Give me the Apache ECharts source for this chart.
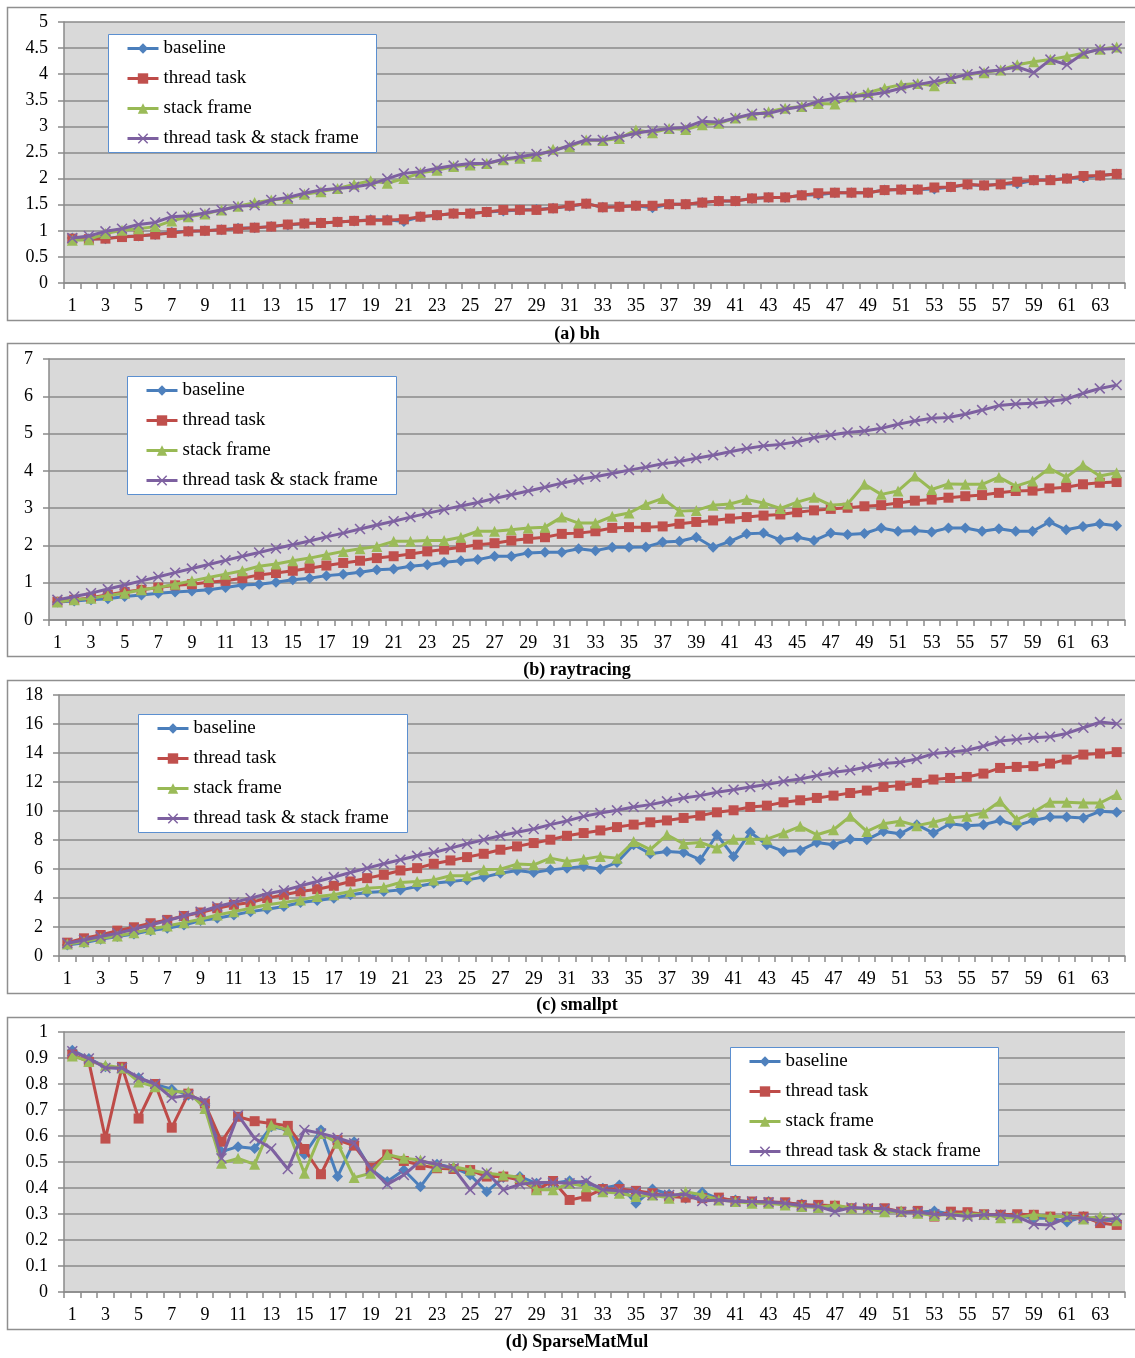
<!DOCTYPE html>
<html>
<head>
<meta charset="utf-8">
<script src="https://cdn.jsdelivr.net/npm/echarts@6/dist/echarts.min.js"></script>
<style>
  html, body { margin: 0; padding: 0; background: #ffffff; }
  #chart { width: 1135px; height: 1358px; }
</style>
</head>
<body>
<div id="chart"></div>
<script>
// Thread counts on the x axis
const categories = ['1','2','3','4','5','6','7','8','9','10','11','12','13','14','15','16',
  '17','18','19','20','21','22','23','24','25','26','27','28','29','30','31','32',
  '33','34','35','36','37','38','39','40','41','42','43','44','45','46','47','48',
  '49','50','51','52','53','54','55','56','57','58','59','60','61','62','63','64'];

const seriesNames = ['baseline', 'thread task', 'stack frame', 'thread task & stack frame'];

// (a) bh
const bhBase = [0.86,0.85,0.85,0.89,0.90,0.93,0.97,0.99,1.00,1.02, 1.05,1.06,1.08,1.11,1.14,1.15,1.17,1.19,1.21,1.21,
  1.18,1.27,1.30,1.33,1.33,1.36,1.38,1.40,1.41,1.43, 1.47,1.52,1.45,1.46,1.48,1.44,1.51,1.51,1.54,1.57,
  1.57,1.62,1.64,1.64,1.68,1.69,1.73,1.73,1.73,1.78, 1.79,1.79,1.80,1.84,1.88,1.87,1.89,1.90,1.97,1.98,
  2.00,2.02,2.06,2.09];
const bhThread = [0.85,0.84,0.85,0.88,0.90,0.93,0.96,0.99,1.00,1.02, 1.04,1.06,1.08,1.12,1.14,1.15,1.17,1.19,1.20,1.20,
  1.22,1.27,1.30,1.33,1.33,1.36,1.40,1.40,1.40,1.43, 1.48,1.52,1.45,1.46,1.48,1.48,1.51,1.51,1.54,1.57,
  1.57,1.62,1.64,1.64,1.68,1.72,1.73,1.73,1.73,1.78, 1.79,1.79,1.83,1.84,1.89,1.87,1.89,1.94,1.97,1.97,
  2.00,2.05,2.06,2.09];
const bhStack = [0.82,0.83,0.95,1.01,1.04,1.08,1.19,1.27,1.32,1.40, 1.47,1.54,1.59,1.62,1.70,1.75,1.81,1.89,1.96,1.91,
  2.00,2.11,2.16,2.23,2.26,2.29,2.36,2.39,2.43,2.56, 2.61,2.74,2.73,2.77,2.93,2.88,2.96,2.94,3.03,3.06,
  3.16,3.22,3.28,3.35,3.38,3.44,3.43,3.57,3.65,3.73, 3.80,3.82,3.78,3.92,3.99,4.03,4.08,4.18,4.24,4.28,
  4.34,4.40,4.48,4.52];
const bhBoth = [0.86,0.90,0.99,1.04,1.12,1.16,1.27,1.29,1.34,1.40, 1.47,1.49,1.59,1.64,1.72,1.78,1.81,1.84,1.89,2.00,
  2.10,2.13,2.20,2.25,2.29,2.29,2.37,2.42,2.47,2.52, 2.64,2.74,2.74,2.80,2.87,2.92,2.96,2.98,3.10,3.08,
  3.16,3.24,3.25,3.33,3.38,3.48,3.54,3.57,3.60,3.65, 3.73,3.80,3.86,3.92,4.00,4.05,4.08,4.14,4.03,4.28,
  4.18,4.40,4.48,4.49];

// (b) raytracing
const rtBase = [0.48,0.51,0.54,0.57,0.63,0.67,0.72,0.75,0.78,0.81, 0.87,0.94,0.96,1.01,1.08,1.12,1.19,1.23,1.28,1.35,
  1.37,1.44,1.48,1.55,1.59,1.62,1.71,1.71,1.80,1.82, 1.82,1.91,1.86,1.95,1.95,1.96,2.09,2.11,2.22,1.95,
  2.11,2.31,2.33,2.15,2.22,2.13,2.33,2.29,2.32,2.47, 2.38,2.40,2.36,2.47,2.47,2.38,2.45,2.38,2.38,2.63,
  2.42,2.51,2.58,2.53];
const rtThread = [0.49,0.54,0.60,0.68,0.75,0.81,0.87,0.93,0.96,1.01, 1.05,1.12,1.21,1.26,1.32,1.39,1.46,1.53,1.59,1.66,
  1.71,1.77,1.84,1.89,1.95,2.02,2.06,2.13,2.18,2.22, 2.31,2.33,2.38,2.47,2.49,2.49,2.51,2.58,2.63,2.67,
  2.72,2.76,2.80,2.83,2.89,2.94,2.98,3.01,3.05,3.08, 3.14,3.20,3.23,3.28,3.32,3.35,3.41,3.46,3.47,3.53,
  3.56,3.64,3.68,3.70];
const rtStack = [0.48,0.54,0.58,0.66,0.72,0.81,0.87,0.96,1.05,1.14, 1.23,1.32,1.44,1.50,1.59,1.66,1.75,1.84,1.91,1.97,
  2.11,2.11,2.13,2.13,2.22,2.38,2.38,2.42,2.47,2.49, 2.76,2.60,2.60,2.78,2.87,3.10,3.26,2.92,2.94,3.08,
  3.11,3.23,3.14,2.99,3.16,3.29,3.08,3.11,3.64,3.37, 3.46,3.86,3.50,3.65,3.64,3.64,3.83,3.59,3.73,4.07,
  3.83,4.16,3.86,3.95];
const rtBoth = [0.54,0.63,0.72,0.83,0.94,1.05,1.16,1.27,1.38,1.49, 1.60,1.71,1.81,1.92,2.02,2.12,2.23,2.33,2.44,2.55,
  2.65,2.76,2.86,2.96,3.06,3.15,3.26,3.36,3.46,3.56, 3.67,3.77,3.84,3.93,4.02,4.10,4.19,4.25,4.34,4.42,
  4.51,4.60,4.67,4.71,4.78,4.89,4.96,5.03,5.07,5.14, 5.25,5.34,5.41,5.43,5.52,5.63,5.75,5.79,5.81,5.86,
  5.92,6.08,6.21,6.30];

// (c) smallpt
const spBase = [0.76,0.92,1.15,1.34,1.52,1.75,1.91,2.14,2.44,2.60, 2.83,3.06,3.23,3.41,3.69,3.82,3.99,4.22,4.38,4.45,
  4.56,4.79,5.02,5.14,5.25,5.44,5.71,5.90,5.76,5.94, 6.06,6.18,5.99,6.45,7.67,7.05,7.21,7.14,6.64,8.36,
  6.87,8.53,7.67,7.21,7.28,7.83,7.67,8.06,8.02,8.59, 8.43,9.06,8.48,9.12,8.99,9.06,9.35,8.99,9.35,9.59,
  9.59,9.52,9.98,9.91];
const spThread = [0.92,1.22,1.45,1.75,1.98,2.26,2.49,2.76,3.00,3.29, 3.53,3.69,3.99,4.22,4.45,4.61,4.84,5.14,5.37,5.60,
  5.90,6.06,6.36,6.59,6.82,7.05,7.33,7.56,7.79,8.02, 8.29,8.48,8.66,8.89,9.06,9.22,9.35,9.52,9.68,9.91,
  10.05,10.28,10.37,10.60,10.74,10.90,11.06,11.24,11.41,11.66, 11.75,11.94,12.17,12.28,12.35,12.58,12.97,13.04,13.09,13.27,
  13.55,13.89,13.96,14.06];
const spStack = [0.83,0.99,1.22,1.38,1.61,1.84,2.07,2.30,2.53,2.83, 3.06,3.29,3.53,3.69,3.87,4.10,4.22,4.45,4.68,4.75,
  5.07,5.14,5.25,5.53,5.53,5.94,5.99,6.34,6.29,6.75, 6.52,6.68,6.87,6.75,7.90,7.33,8.36,7.74,7.83,7.44,
  8.06,8.06,8.06,8.48,8.94,8.36,8.71,9.63,8.59,9.12, 9.29,8.99,9.22,9.52,9.63,9.86,10.67,9.40,9.91,10.60,
  10.60,10.55,10.55,11.13];
const spBoth = [0.88,1.11,1.34,1.57,1.84,2.14,2.44,2.76,3.06,3.41, 3.69,3.99,4.29,4.52,4.84,5.14,5.44,5.76,6.06,6.36,
  6.64,6.91,7.14,7.44,7.74,8.02,8.29,8.53,8.76,9.06, 9.32,9.63,9.86,10.05,10.28,10.44,10.67,10.90,11.06,11.29,
  11.47,11.66,11.82,12.05,12.21,12.44,12.67,12.81,13.04,13.27, 13.36,13.59,13.96,14.06,14.19,14.47,14.82,14.93,15.05,15.12,
  15.35,15.74,16.13,16.01];

// (d) SparseMatMul
const smBase = [0.930,0.898,0.866,0.859,0.824,0.798,0.780,0.757,0.725,0.540, 0.559,0.552,0.636,0.623,0.529,0.623,0.444,0.578,0.473,0.425,
  0.469,0.405,0.491,0.478,0.450,0.386,0.440,0.444,0.418,0.418, 0.428,0.418,0.399,0.412,0.341,0.396,0.376,0.361,0.384,0.358,
  0.354,0.345,0.348,0.341,0.338,0.329,0.322,0.322,0.320,0.312, 0.309,0.307,0.312,0.299,0.297,0.297,0.297,0.294,0.284,0.284,
  0.269,0.290,0.277,0.274];
const smThread = [0.913,0.885,0.590,0.866,0.667,0.800,0.632,0.763,0.725,0.578, 0.674,0.657,0.648,0.639,0.550,0.453,0.584,0.563,0.478,0.529,
  0.504,0.488,0.476,0.473,0.469,0.444,0.444,0.431,0.393,0.427, 0.354,0.367,0.396,0.396,0.389,0.380,0.367,0.363,0.361,0.363,
  0.350,0.348,0.345,0.345,0.335,0.335,0.332,0.322,0.320,0.322, 0.309,0.312,0.290,0.309,0.307,0.299,0.297,0.299,0.297,0.290,
  0.290,0.290,0.265,0.258];
const smStack = [0.908,0.887,0.872,0.862,0.808,0.789,0.770,0.770,0.706,0.495, 0.514,0.491,0.642,0.623,0.457,0.610,0.572,0.440,0.457,0.529,
  0.514,0.508,0.482,0.482,0.469,0.457,0.450,0.440,0.393,0.393, 0.418,0.405,0.386,0.380,0.367,0.373,0.361,0.386,0.373,0.354,
  0.348,0.341,0.341,0.335,0.329,0.325,0.335,0.322,0.320,0.309, 0.312,0.303,0.294,0.299,0.299,0.299,0.286,0.286,0.297,0.290,
  0.290,0.281,0.290,0.274];
const smBoth = [0.926,0.898,0.862,0.862,0.824,0.800,0.747,0.757,0.734,0.514, 0.680,0.591,0.552,0.473,0.623,0.610,0.593,0.572,0.473,0.414,
  0.450,0.504,0.491,0.476,0.393,0.460,0.393,0.414,0.421,0.421, 0.418,0.427,0.393,0.389,0.386,0.373,0.373,0.376,0.350,0.354,
  0.348,0.348,0.345,0.341,0.332,0.329,0.309,0.325,0.322,0.320, 0.307,0.307,0.299,0.297,0.290,0.297,0.297,0.290,0.261,0.258,
  0.286,0.284,0.274,0.284];

const captions = ['(a) bh', '(b) raytracing', '(c) smallpt', '(d) SparseMatMul'];

// Layout of the four stacked panels
const panels = [
  { values: [bhBase, bhThread, bhStack, bhBoth], max: 5, step: 0.5,
    left: 64, top: 22, bottom: 283, frameTop: 7, frameBottom: 320, captionY: 334,
    legendBox: [108, 34, 268, 118] },
  { values: [rtBase, rtThread, rtStack, rtBoth], max: 7, step: 1,
    left: 49, top: 359, bottom: 620, frameTop: 343, frameBottom: 656, captionY: 670,
    legendBox: [127, 376, 269, 118] },
  { values: [spBase, spThread, spStack, spBoth], max: 18, step: 2,
    left: 59, top: 695, bottom: 956, frameTop: 680, frameBottom: 993, captionY: 1005,
    legendBox: [138, 714, 269, 118] },
  { values: [smBase, smThread, smStack, smBoth], max: 1, step: 0.1,
    left: 64, top: 1032, bottom: 1292, frameTop: 1017, frameBottom: 1329, captionY: 1342,
    legendBox: [730, 1047, 268, 118] }
];

const PLOT_RIGHT = 1125;
const FONT = '"Liberation Serif", "Times New Roman", serif';
const AXIS_GRAY = '#8a8a8a';

// Marker and line style of each series
const crossPath = 'path://M1,0L5,4L9,0L10,1L6,5L10,9L9,10L5,6L1,10L0,9L4,5L0,1Z';
const styles = [
  { line: '#4a7ebb', fill: '#4f81bd', symbol: 'diamond', size: 11 },
  { line: '#be4b48', fill: '#c0504d', symbol: 'rect', size: 10 },
  { line: '#98b954', fill: '#9bbb59', symbol: 'triangle', size: 11 },
  { line: '#7d60a0', fill: '#8064a2', symbol: crossPath, size: 11 }
];

const grid = [], xAxis = [], yAxis = [], series = [], legend = [], graphic = [];

panels.forEach((p, i) => {
  grid.push({
    left: p.left, top: p.top, width: PLOT_RIGHT - p.left, height: p.bottom - p.top,
    show: true, backgroundColor: '#d9d9d9', borderWidth: 0
  });
  xAxis.push({
    type: 'category', gridIndex: i, data: categories, boundaryGap: true,
    axisLine: { show: true, lineStyle: { color: AXIS_GRAY, width: 1.5 } },
    axisTick: { show: true, interval: 0, length: 6, lineStyle: { color: AXIS_GRAY, width: 1.5 } },
    axisLabel: { interval: 1, margin: 14, color: '#000', fontFamily: FONT, fontSize: 18 },
    splitLine: { show: false }
  });
  yAxis.push({
    type: 'value', gridIndex: i, min: 0, max: p.max, interval: p.step,
    axisLine: { show: true, lineStyle: { color: AXIS_GRAY, width: 1.5 } },
    axisTick: { show: true, length: 6, lineStyle: { color: AXIS_GRAY, width: 1.5 } },
    axisLabel: { margin: 16, color: '#000', fontFamily: FONT, fontSize: 18 },
    splitLine: { show: true, lineStyle: { color: AXIS_GRAY, width: 1.5 } }
  });
  p.values.forEach((vals, k) => {
    const s = styles[k];
    series.push({
      type: 'line', name: seriesNames[k], xAxisIndex: i, yAxisIndex: i,
      data: vals, symbol: s.symbol, symbolSize: s.size, showAllSymbol: true,
      lineStyle: { color: s.line, width: 3 },
      itemStyle: { color: s.fill },
      emphasis: { disabled: true },
      z: 2 + k
    });
  });

  // Outer frame of the panel (its right edge runs past the page)
  graphic.push({
    type: 'rect', z: 0, silent: true,
    shape: { x: 7.5, y: p.frameTop + 0.5, width: 1160, height: p.frameBottom - p.frameTop },
    style: { fill: null, stroke: '#8f8f8f', lineWidth: 1.5 }
  });
  // Legend box
  const b = p.legendBox;
  graphic.push({
    type: 'rect', z: 30, silent: true,
    shape: { x: b[0] + 0.5, y: b[1] + 0.5, width: b[2], height: b[3] },
    style: { fill: '#ffffff', stroke: '#5b8fd0', lineWidth: 1 }
  });
  // Caption under the panel
  graphic.push({
    type: 'text', z: 40, silent: true, x: 577, y: p.captionY,
    style: { text: captions[i], font: 'bold 18px ' + FONT, fill: '#000',
      textAlign: 'center', textVerticalAlign: 'middle' }
  });

  legend.push({
    orient: 'vertical', left: b[0] + 18, top: b[1] + 5,
    itemWidth: 31, itemHeight: 13, itemGap: 11, padding: 0,
    data: seriesNames, selectedMode: false, z: 40,
    lineStyle: { width: 3 },
    textStyle: { color: '#000', fontFamily: FONT, fontSize: 19, lineHeight: 18 }
  });
});

const chart = echarts.init(document.getElementById('chart'), null, { renderer: 'canvas' });
chart.setOption({
  animation: false,
  backgroundColor: '#ffffff',
  grid, xAxis, yAxis, series, legend, graphic
});
</script>
</body>
</html>
